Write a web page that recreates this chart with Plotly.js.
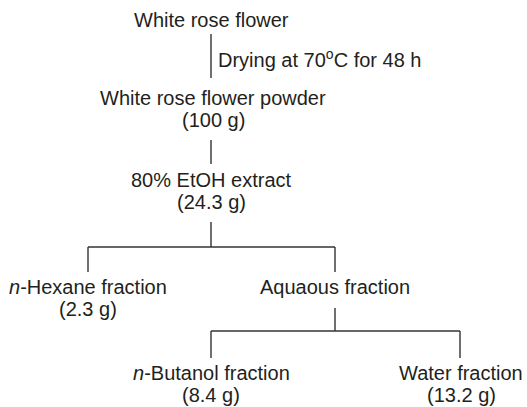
<!DOCTYPE html>
<html>
<head>
<meta charset="utf-8">
<script src="https://cdn.plot.ly/plotly-3.0.1.min.js"></script>
<style>html,body{margin:0;padding:0;background:#fff;}</style>
</head>
<body>
<div id="chart" style="width:527px;height:407px;"></div>
<script>
// Flowchart content
const stepNames = ["White rose flower", "White rose flower powder", "80% EtOH extract",
  "<i>n</i>-Hexane fraction", "Aquaous fraction", "<i>n</i>-Butanol fraction", "Water fraction"];
const stepMasses = ["", "(100 g)", "(24.3 g)", "(2.3 g)", "", "(8.4 g)", "(13.2 g)"];
const processLabel = "Drying at 70<sup>o</sup>C for 48 h";

// Layout (pixel positions, separate from content)
const nodeX = [211, 213, 211, 88, 335, 211, 461];
const nodeY = [20, 98, 180, 287, 287, 373, 373];
const lineGap = 22;
const textColor = "#231f20";
const fontSize = 20;

const annotations = [];
stepNames.forEach((name, i) => {
  annotations.push({x: nodeX[i], y: nodeY[i], text: name, showarrow: false,
    xanchor: "center", yanchor: "middle", font: {size: fontSize, color: textColor}});
  if (stepMasses[i]) {
    annotations.push({x: nodeX[i], y: nodeY[i] + lineGap, text: stepMasses[i], showarrow: false,
      xanchor: "center", yanchor: "middle", font: {size: fontSize, color: textColor}});
  }
});
annotations.push({x: 216, y: 58, text: processLabel, showarrow: false,
  xanchor: "left", yanchor: "middle", font: {size: fontSize, color: textColor}});

const lineStyle = {color: "#333333", width: 1.4};
const seg = (x0, y0, x1, y1) => ({type: "line", xref: "x", yref: "y", x0, y0, x1, y1, line: lineStyle});
const shapes = [
  seg(211, 34, 211, 78),
  seg(211, 140, 211, 164),
  seg(211, 222, 211, 247),
  seg(88, 247, 335, 247),
  seg(88, 247, 88, 272),
  seg(335, 247, 335, 272),
  seg(335, 308, 335, 331),
  seg(211, 331, 460, 331),
  seg(211, 331, 211, 358),
  seg(460, 331, 460, 358)
];

const layout = {
  width: 527, height: 407,
  margin: {l: 0, r: 0, t: 0, b: 0},
  paper_bgcolor: "#ffffff", plot_bgcolor: "#ffffff",
  font: {family: "Liberation Sans, Arial, sans-serif"},
  xaxis: {range: [0, 527], visible: false, fixedrange: true},
  yaxis: {range: [407, 0], visible: false, fixedrange: true},
  showlegend: false,
  annotations, shapes
};
Plotly.newPlot("chart", [{x: [], y: [], type: "scatter"}], layout, {staticPlot: true, displayModeBar: false});
</script>
</body>
</html>
